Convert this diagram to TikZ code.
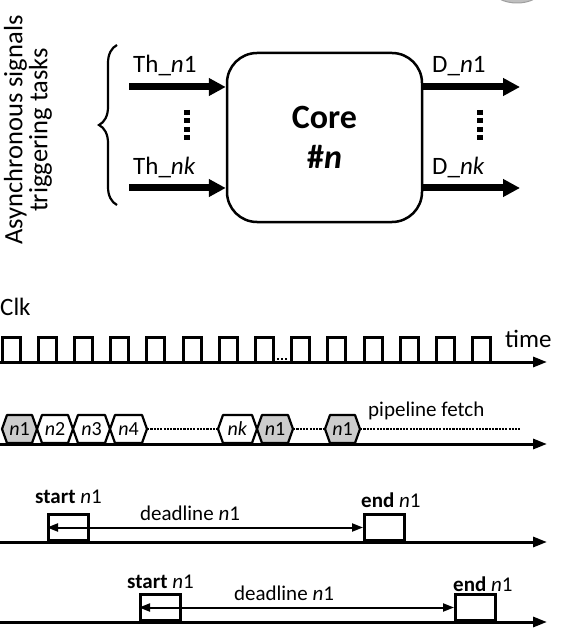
\documentclass[tikz,border=0pt]{standalone}
\usepackage{fontspec}
\setmainfont{Carlito}
\usetikzlibrary{positioning, arrows.meta, decorations.pathreplacing}

\begin{document}
\begin{tikzpicture}[x=1pt, y=-1pt,
    lab/.style={font=\fontsize{21}{21}\selectfont, inner sep=0pt},
    siglab/.style={font=\fontsize{25}{25}\selectfont, inner sep=0pt, anchor=base west},
    sig/.style={line width=7pt, -{Triangle[length=17pt,width=17pt]}},
    vdots/.style={line width=6pt, dash pattern=on 5pt off 3.4pt},
    axis/.style={line width=3pt, -{Triangle[length=14pt,width=10pt]}},
    clk/.style={line width=3pt},
    hex/.style={line width=2.2pt, line join=round},
    hexlab/.style={font=\fontsize{20}{20}\selectfont, inner sep=0pt},
    dotline/.style={line width=2.8pt, dash pattern=on 2.2pt off 1.1pt},
    tbox/.style={draw, line width=3pt, minimum width=40pt, minimum height=26pt, inner sep=0pt, anchor=south west},
    dl/.style={line width=2pt, {Triangle[length=11pt,width=8pt]}-{Triangle[length=11pt,width=8pt]}}]
    \useasboundingbox (0,0) rectangle (563,628);
    \fill[gray!50, draw=gray!75, line width=1pt] (517,-10) ellipse (24 and 13);

    \node[rotate=90, align=center, font=\fontsize{26.5}{25}\selectfont, inner sep=0pt] (async) at (28,130)
      {Asynchronous signals\\triggering tasks};
    \coordinate (brT) at (117,45);
    \coordinate (brB) at (117,205);
    \draw[line width=2.2pt, decorate, decoration={brace, amplitude=18pt}] (brB) -- (brT);

    \node[draw, line width=2.5pt, rounded corners=30pt, minimum width=195pt, minimum height=169pt,
      align=center, font=\fontsize{34}{40}\selectfont\bfseries] (core) at (324.5,137.5) {Core\\\#\textit{n}};

    \coordinate (th1) at (129,87);
    \coordinate (thk) at (129,188);
    \coordinate (dn1) at (520,87);
    \coordinate (dnk) at (520,188);
    \draw[sig] (th1) -- (th1 -| core.west);
    \draw[sig] (thk) -- (thk -| core.west);
    \draw[sig] (th1 -| core.east) -- (dn1);
    \draw[sig] (thk -| core.east) -- (dnk);
    \node[siglab] (lth1) at (133,73) {Th\_\textit{n}1};
    \node[siglab] (lthk) at (133,175) {Th\_\textit{nk}};
    \node[siglab] (ld1) at (432,73) {D\_\textit{n}1};
    \node[siglab] (ldk) at (432,175) {D\_\textit{nk}};
    \draw[vdots] (187,110) -- (187,141);
    \draw[vdots] (480,110) -- (480,141);

    \node[siglab] (clklab) at (0,315) {Clk};
    \coordinate (clkO) at (0,362);
    \coordinate (clkE) at (547,362);
    \draw[axis] (clkO) -- (clkE);
    \foreach \k in {0,...,13}
      \draw[clk] ({2+36.2*\k},362) -- ({2+36.2*\k},337) -- ({20+36.2*\k},337) -- ({20+36.2*\k},362);
    \foreach \xd in {278,282,286}
      \fill (\xd-1,357.5) rectangle (\xd+1,359.5);
    \node[siglab] (timelab) at (505,347) {time};

    \coordinate (pO) at (0,444);
    \coordinate (pE) at (547,444);
    \draw[axis] (pO) -- (pE);
    \foreach \xa/\xb/\lab/\col [count=\i] in {2/37/{\textit{n}1}/gray!40, 37/73/{\textit{n}2}/white,
        73/110/{\textit{n}3}/white, 110/147/{\textit{n}4}/white, 218/257/{\textit{nk}}/white,
        257/293/{\textit{n}1}/gray!40, 325/360/{\textit{n}1}/gray!40} {
      \coordinate (hexL\i) at (\xa,429);
      \coordinate (hexR\i) at (\xb,429);
      \draw[hex, fill=\col] (hexL\i) -- (\xa+5,415) -- (\xb-5,415) -- (hexR\i) -- (\xb-5,443) -- (\xa+5,443) -- cycle;
      \node[hexlab] (hex\i) at ({(\xa+\xb)/2},429) {\lab};
    }
    \coordinate (pfE) at (520,429);
    \draw[dotline] (hexR4) -- (hexL5);
    \draw[dotline] (hexR6) -- (hexL7);
    \draw[dotline] (hexR7) -- (pfE);
    \node[lab, anchor=base west] (pfetch) at (368,416) {pipeline fetch};

    \coordinate (r1O) at (0,542);
    \coordinate (r1E) at (547,542);
    \draw[axis] (r1O) -- (r1E);
    \node[tbox] (s1) at (47,542) {};
    \node[tbox] (e1) at (363,542) {};
    \draw[dl] (s1.west) -- (e1.west);
    \node[lab, above=9pt of s1] (st1) {\textbf{start} \textit{n}1};
    \node[lab, anchor=base west] (en1) at (361,507) {\textbf{end} \textit{n}1};
    \node[lab, anchor=base] (dl1) at (190,520) {deadline \textit{n}1};

    \coordinate (r2O) at (0,622);
    \coordinate (r2E) at (547,622);
    \draw[axis] (r2O) -- (r2E);
    \node[tbox] (s2) at (139,622) {};
    \node[tbox] (e2) at (454,622) {};
    \draw[dl] (s2.west) -- (e2.west);
    \node[lab, above=4pt of s2] (st2) {\textbf{start} \textit{n}1};
    \node[lab, anchor=base west] (en2) at (453,591) {\textbf{end} \textit{n}1};
    \node[lab, anchor=base] (dl2) at (284,600) {deadline \textit{n}1};
\end{tikzpicture}
\end{document}
